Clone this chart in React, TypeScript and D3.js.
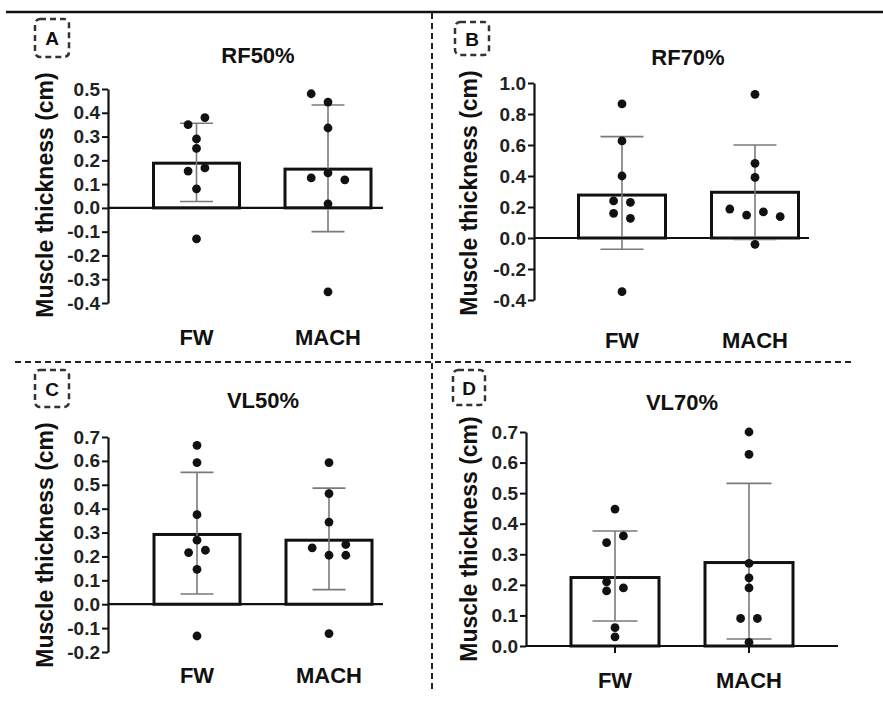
import React, { useEffect, useRef } from "react";
import * as d3 from "d3";

// groups + panel text
const groups = ["FW", "MACH"];
const panelLetters = ["A", "B", "C", "D"];
const panelTitles = ["RF50%", "RF70%", "VL50%", "VL70%"];
const yLabel = "Muscle thickness (cm)";

// A - RF50%
const rf50Ticks = [-0.4, -0.3, -0.2, -0.1, 0.0, 0.1, 0.2, 0.3, 0.4, 0.5];
const rf50Means = [0.188, 0.163];
const rf50Upper = [0.356, 0.433];
const rf50Lower = [0.027, -0.1];
const rf50FW = [0.38, 0.35, 0.29, 0.25, 0.155, 0.168, 0.08, -0.13];
const rf50FWLane = [1, -1, 0, 0, -1, 1, 0, 0];
const rf50MACH = [0.48, 0.445, 0.336, 0.126, 0.147, 0.118, 0.017, -0.353];
const rf50MACHLane = [-2, 0, 0, -2, 0, 2, 0, 0];

// B - RF70%
const rf70Ticks = [-0.4, -0.2, 0.0, 0.2, 0.4, 0.6, 0.8, 1.0];
const rf70Means = [0.277, 0.295];
const rf70Upper = [0.654, 0.6];
const rf70Lower = [-0.073, -0.01];
const rf70FW = [0.865, 0.626, 0.4, 0.239, 0.23, 0.159, 0.127, -0.346];
const rf70FWLane = [0, 0, 0, -1, 1, -1, 1, 0];
const rf70MACH = [0.927, 0.482, 0.391, 0.187, 0.148, 0.168, 0.138, -0.041];
const rf70MACHLane = [0, 0, 0, -3, -1, 1, 3, 0];

// C - VL50%
const vl50Ticks = [-0.2, -0.1, 0.0, 0.1, 0.2, 0.3, 0.4, 0.5, 0.6, 0.7];
const vl50Means = [0.292, 0.268];
const vl50Upper = [0.552, 0.486];
const vl50Lower = [0.043, 0.061];
const vl50FW = [0.665, 0.593, 0.375, 0.268, 0.216, 0.226, 0.146, -0.133];
const vl50FWLane = [0, 0, 0, 0, -1, 1, 0, 0];
const vl50MACH = [0.593, 0.463, 0.344, 0.236, 0.205, 0.25, 0.205, -0.123];
const vl50MACHLane = [0, 0, 0, -2, 0, 2, 2, 0];

// D - VL70%
const vl70Ticks = [0.0, 0.1, 0.2, 0.3, 0.4, 0.5, 0.6, 0.7];
const vl70Means = [0.224, 0.273];
const vl70Upper = [0.376, 0.532];
const vl70Lower = [0.082, 0.023];
const vl70FW = [0.448, 0.338, 0.36, 0.21, 0.18, 0.19, 0.06, 0.03];
const vl70FWLane = [0, -1, 1, -1, -1, 1, 0, 0];
const vl70MACH = [0.7, 0.627, 0.27, 0.223, 0.19, 0.09, 0.09, 0.012];
const vl70MACHLane = [0, 0, 0, 0, 0, -1, 1, 0];

const panels = [
  { ticks: rf50Ticks, means: rf50Means, upper: rf50Upper, lower: rf50Lower, pts: [rf50FW, rf50MACH], lanes: [rf50FWLane, rf50MACHLane] },
  { ticks: rf70Ticks, means: rf70Means, upper: rf70Upper, lower: rf70Lower, pts: [rf70FW, rf70MACH], lanes: [rf70FWLane, rf70MACHLane] },
  { ticks: vl50Ticks, means: vl50Means, upper: vl50Upper, lower: vl50Lower, pts: [vl50FW, vl50MACH], lanes: [vl50FWLane, vl50MACHLane] },
  { ticks: vl70Ticks, means: vl70Means, upper: vl70Upper, lower: vl70Lower, pts: [vl70FW, vl70MACH], lanes: [vl70FWLane, vl70MACHLane] },
];

// where each panel sits on the page
const layouts = [
  { ax: 108, yTop: 89, yBot: 303, xEnd: 383, c0: 196.5, c1: 328, barW: 86, capW: 33, title: [258, 63], box: [35, 19, 34, 38], ylab: [53, 195], catY: 345, xTicks: false },
  { ax: 534, yTop: 83, yBot: 300, xEnd: 809, c0: 622, c1: 755, barW: 87, capW: 43, title: [688, 65], box: [455, 22, 34, 33], ylab: [477, 193], catY: 348, xTicks: false },
  { ax: 108, yTop: 437, yBot: 652, xEnd: 383, c0: 197, c1: 329, barW: 86, capW: 33, title: [263, 408], box: [35, 370, 34, 37], ylab: [53, 545], catY: 683, xTicks: false },
  { ax: 526, yTop: 432, yBot: 646, xEnd: 838, c0: 615, c1: 749, barW: 88, capW: 45, title: [682, 410], box: [453, 370, 32, 35], ylab: [477, 539], catY: 688, xTicks: true },
];

const FONT = "'Liberation Sans', Arial, Helvetica, sans-serif";

export default function App() {
  const svgRef = useRef(null);

  useEffect(() => {
    const svg = d3.select(svgRef.current);
    svg.selectAll("*").remove();

    // frame lines
    svg.append("line").attr("x1", 6).attr("x2", 883).attr("y1", 12).attr("y2", 12)
      .attr("stroke", "#111").attr("stroke-width", 2.5);
    svg.append("line").attr("x1", 432).attr("x2", 432).attr("y1", 13).attr("y2", 690)
      .attr("stroke", "#222").attr("stroke-width", 2).attr("stroke-dasharray", "6,4");
    svg.append("line").attr("x1", 15).attr("x2", 855).attr("y1", 362).attr("y2", 362)
      .attr("stroke", "#222").attr("stroke-width", 2).attr("stroke-dasharray", "6,4");

    panels.forEach((p, i) => {
      const L = layouts[i];
      const g = svg.append("g");
      const y = d3.scaleLinear()
        .domain([p.ticks[0], p.ticks[p.ticks.length - 1]])
        .range([L.yBot, L.yTop]);
      const x = d3.scalePoint().domain(groups).range([L.c0, L.c1]);
      const laneW = 8.4;

      // letter box
      g.append("rect")
        .attr("x", L.box[0]).attr("y", L.box[1])
        .attr("width", L.box[2]).attr("height", L.box[3])
        .attr("rx", 5)
        .attr("fill", "none").attr("stroke", "#333")
        .attr("stroke-width", 2.5).attr("stroke-dasharray", "6,4");
      g.append("text")
        .attr("x", L.box[0] + L.box[2] / 2).attr("y", L.box[1] + L.box[3] / 2 + 7)
        .attr("text-anchor", "middle")
        .style("font", `bold 19px ${FONT}`).attr("fill", "#111")
        .text(panelLetters[i]);

      // title
      g.append("text")
        .attr("x", L.title[0]).attr("y", L.title[1])
        .attr("text-anchor", "middle")
        .style("font", `bold 22px ${FONT}`).attr("fill", "#111")
        .text(panelTitles[i]);

      // y label
      g.append("text")
        .attr("transform", `translate(${L.ylab[0]},${L.ylab[1]}) rotate(-90)`)
        .attr("text-anchor", "middle")
        .style("font", `bold 23px ${FONT}`).attr("fill", "#111")
        .text(yLabel);

      // bars
      g.selectAll(".bar").data(groups).join("rect")
        .attr("class", "bar")
        .attr("x", (d) => x(d) - L.barW / 2)
        .attr("y", (d, j) => y(p.means[j]))
        .attr("width", L.barW)
        .attr("height", (d, j) => y(0) - y(p.means[j]))
        .attr("fill", "white").attr("stroke", "#111").attr("stroke-width", 3);

      // error bars
      groups.forEach((grp, j) => {
        const cx = x(grp);
        g.append("line").attr("x1", cx).attr("x2", cx)
          .attr("y1", y(p.lower[j])).attr("y2", y(p.upper[j]))
          .attr("stroke", "#7a7a7a").attr("stroke-width", 1.6);
        [p.lower[j], p.upper[j]].forEach((v) => {
          g.append("line").attr("x1", cx - L.capW / 2).attr("x2", cx + L.capW / 2)
            .attr("y1", y(v)).attr("y2", y(v))
            .attr("stroke", "#7a7a7a").attr("stroke-width", 1.6);
        });
      });

      // y axis
      const axis = d3.axisLeft(y)
        .tickValues(p.ticks)
        .tickFormat((d) => d.toFixed(1))
        .tickSize(6)
        .tickSizeOuter(0)
        .tickPadding(2);
      const ag = g.append("g").attr("transform", `translate(${L.ax},0)`).call(axis);
      ag.select(".domain").attr("stroke", "#111").attr("stroke-width", 2.2);
      ag.selectAll(".tick line").attr("stroke", "#111").attr("stroke-width", 2);
      ag.selectAll(".tick text")
        .style("font", `bold 19px ${FONT}`).attr("fill", "#222");

      // zero line
      g.append("line").attr("x1", L.ax).attr("x2", L.xEnd)
        .attr("y1", y(0)).attr("y2", y(0))
        .attr("stroke", "#111").attr("stroke-width", 2.2);

      if (L.xTicks) {
        g.selectAll(".xt").data(groups).join("line")
          .attr("class", "xt")
          .attr("x1", (d) => x(d)).attr("x2", (d) => x(d))
          .attr("y1", y(0)).attr("y2", y(0) + 7)
          .attr("stroke", "#111").attr("stroke-width", 2);
      }

      // dots
      groups.forEach((grp, j) => {
        const vals = p.pts[j];
        const lanes = p.lanes[j];
        g.selectAll(`.dot${j}`).data(vals).join("circle")
          .attr("class", `dot${j}`)
          .attr("cx", (v, k) => x(grp) + lanes[k] * laneW)
          .attr("cy", (v) => y(v))
          .attr("r", 4.4)
          .attr("fill", "#111");
      });

      // categories
      g.selectAll(".cat").data(groups).join("text")
        .attr("class", "cat")
        .attr("x", (d) => x(d)).attr("y", L.catY)
        .attr("text-anchor", "middle")
        .style("font", `bold 22px ${FONT}`).attr("fill", "#111")
        .text((d) => d);
    });
  }, []);

  return (
    <svg
      ref={svgRef}
      width={883}
      height={711}
      style={{ position: "absolute", left: 0, top: 0, background: "white" }}
    />
  );
}
